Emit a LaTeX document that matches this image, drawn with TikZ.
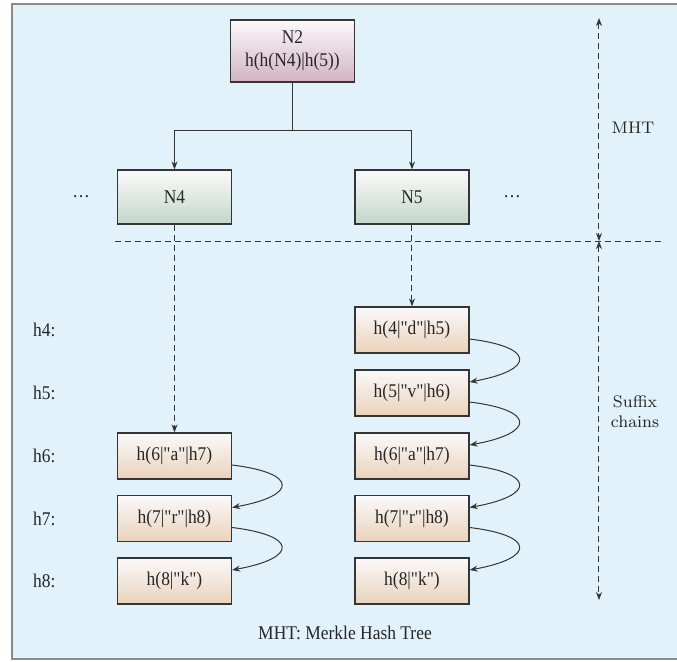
\documentclass[tikz,border=0pt]{standalone}
\usepackage{fontspec}
\newfontfamily\tnr[FakeStretch=0.9]{Liberation Serif}
\usetikzlibrary{arrows.meta}
\definecolor{bgblue}{HTML}{E1F2FA}
\definecolor{framegray}{HTML}{8A8A8A}
\definecolor{edge}{HTML}{353535}
\definecolor{topfill}{HTML}{FBF9FA}
\definecolor{mauve}{HTML}{D3B3C3}
\definecolor{sage}{HTML}{C3D7CA}
\definecolor{peach}{HTML}{EAD2BB}
\begin{document}
\begin{tikzpicture}[x=0.5pt,y=-0.5pt,
  every node/.style={font=\tnr\fontsize{9.7pt}{11.5pt}\selectfont, text=black!85},
  box/.style={draw=edge, line width=0.6pt, minimum width=57pt, inner sep=0pt, align=center},
  rootbox/.style={box, minimum width=62pt, minimum height=31pt, top color=topfill, bottom color=mauve},
  midbox/.style={box, minimum height=27pt, top color=topfill, bottom color=sage},
  chainbox/.style={box, minimum height=23pt, top color=topfill, bottom color=peach},
  conn/.style={draw=edge, line width=0.5pt, -{Stealth[length=4pt,width=3pt]}},
  dconn/.style={conn, dash pattern=on 3pt off 2pt},
  ddouble/.style={draw=edge, line width=0.5pt, dash pattern=on 3pt off 2pt, {Stealth[length=4pt,width=3pt]}-{Stealth[length=4pt,width=3pt]}},
  curv/.style={conn},
  lbl/.style={anchor=west},
  side/.style={font=\rmfamily\fontsize{8.4pt}{10pt}\selectfont, align=center}
]
\useasboundingbox (0,0) rectangle (677,661);
\fill[white] (0,0) rectangle (677,661);
\draw[fill=bgblue, draw=framegray, line width=1pt] (12,4) rectangle (700,659);

% MHT part
\node[rootbox] (n2) at (292.5,51) {N2\\h(h(N4)|h(5))};
\node[midbox] (n4) at (174.5,197) {N4};
\node[midbox] (n5) at (412,197) {N5};
\node (dl) at (81,197) {\dots};
\node (dr) at (512,197) {\dots};
\coordinate (j) at (292.5,130);
\draw[draw=edge, line width=0.5pt] (n2.south) -- (j);
\draw[conn] (j) -| (n4.north);
\draw[conn] (j) -| (n5.north);

% separator
\coordinate (sepL) at (115,241);
\coordinate (sepR) at (662,241);
\draw[draw=edge, line width=0.5pt, dash pattern=on 3pt off 2pt] (sepL) -- (sepR);

% right scale
\coordinate (atop) at (599,18);
\coordinate (amid) at (599,241);
\coordinate (abot) at (599,600);
\draw[ddouble] (atop) -- (amid);
\draw[ddouble] (amid) -- (abot);
\node[side] (mht) at (633,128) {MHT};
\node[side] (suf) at (635,412) {Suffix\\chains};

% row labels
\node[lbl] (l4) at (26,330) {h4:};
\node[lbl] (l5) at (26,393) {h5:};
\node[lbl] (l6) at (26,456) {h6:};
\node[lbl] (l7) at (26,518.5) {h7:};
\node[lbl] (l8) at (26,581) {h8:};

% left chain
\node[chainbox] (a6) at (174.5,456) {h(6|"a"|h7)};
\node[chainbox] (a7) at (174.5,518.5) {h(7|"r"|h8)};
\node[chainbox] (a8) at (174.5,581) {h(8|"k")};

% right chain
\node[chainbox] (b4) at (412,330) {h(4|"d"|h5)};
\node[chainbox] (b5) at (412,393) {h(5|"v"|h6)};
\node[chainbox] (b6) at (412,456) {h(6|"a"|h7)};
\node[chainbox] (b7) at (412,518.5) {h(7|"r"|h8)};
\node[chainbox] (b8) at (412,581) {h(8|"k")};

\draw[dconn] (n4.south) -- (a6.north);
\draw[dconn] (n5.south) -- (b4.north);

\foreach \u/\v in {a6/a7,a7/a8,b4/b5,b5/b6,b6/b7,b7/b8}{
  \draw[curv] ([yshift=-4.5pt]\u.east) .. controls +(66,8) and +(66,-12) .. ([yshift=5.5pt]\v.east);
}

\node (cap) at (345,633) {MHT: Merkle Hash Tree};
\end{tikzpicture}
\end{document}
